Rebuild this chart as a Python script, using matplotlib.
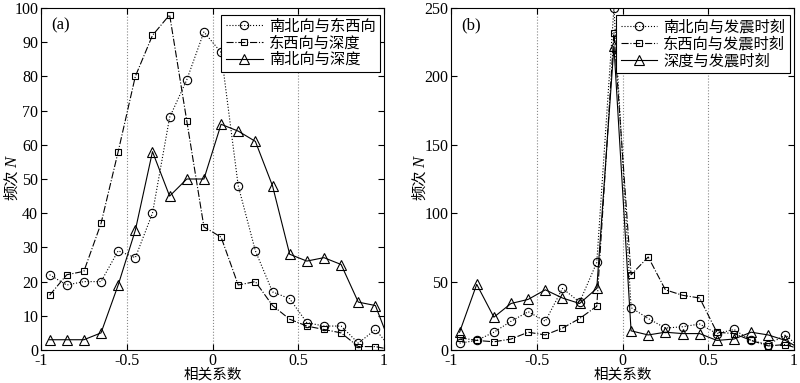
import matplotlib
matplotlib.use("Agg")
import matplotlib.pyplot as plt
import numpy as np

plt.rcParams['font.family'] = ['Liberation Serif', 'Noto Sans CJK SC']

x = [-0.95, -0.85, -0.75, -0.65, -0.55, -0.45, -0.35, -0.25, -0.15, -0.05,
     0.05, 0.15, 0.25, 0.35, 0.45, 0.55, 0.65, 0.75, 0.85, 0.95, 1.05]

# panel (a)
a_ns_ew = [22, 19, 20, 20, 29, 27, 40, 68, 79, 93, 87, 48, 29, 17, 15, 8, 7, 7, 2, 6, 0]
a_ew_depth = [16, 22, 23, 37, 58, 80, 92, 98, 67, 36, 33, 19, 20, 13, 9, 7, 6, 5, 1, 1, 0]
a_ns_depth = [3, 3, 3, 5, 19, 35, 58, 45, 50, 50, 66, 64, 61, 48, 28, 26, 27, 25, 14, 13, 0]
a_labels = ['南北向与东西向', '东西向与深度', '南北向与深度']

# panel (b)
b_ns_time = [5, 7, 13, 21, 28, 21, 45, 35, 64, 250, 31, 23, 16, 17, 19, 12, 15, 7, 4, 11, 0]
b_ew_time = [9, 7, 6, 8, 13, 11, 16, 23, 32, 232, 55, 68, 44, 40, 38, 13, 12, 7, 3, 4, 0]
b_depth_time = [13, 48, 24, 34, 37, 44, 38, 34, 45, 222, 14, 11, 13, 12, 12, 7, 8, 13, 11, 7, 0]
b_labels = ['南北向与发震时刻', '东西向与发震时刻', '深度与发震时刻']

xticks = [-1, -0.5, 0, 0.5, 1]
xticklabels = ['-1', '-0.5', '0', '0.5', '1']

W, H = 800, 383
fig = plt.figure(figsize=(W/100, H/100), dpi=100)
ax1 = fig.add_axes([41/W, 1-350/H, 343/W, 342/H])
ax2 = fig.add_axes([451/W, 1-350/H, 343/W, 342/H])

styles = [
    dict(linestyle=':', marker='o', markersize=6),
    dict(linestyle='-.', marker='s', markersize=4.2),
    dict(linestyle='-', marker='^', markersize=6.5),
]

def draw(ax, series, labels, yticks, ylim, tag, ylab_x):
    for s, lab, st in zip(series, labels, styles):
        ax.plot(x, s, color='black', linewidth=0.8,
                markerfacecolor='none', markeredgecolor='black',
                markeredgewidth=0.8, label=lab, **st)
    ax.set_xlim(-1, 1)
    ax.set_ylim(*ylim)
    ax.set_xticks(xticks)
    ax.set_xticklabels(xticklabels)
    ax.set_yticks(yticks)
    for v in [-0.5, 0, 0.5]:
        ax.axvline(v, color='#888888', linestyle=':', linewidth=0.8, zorder=0)
    ax.tick_params(direction='in', top=True, right=True, labelsize=11.5,
                   length=4, width=0.8)
    ax.tick_params(axis='x', pad=2)
    ax.tick_params(axis='y', pad=2)
    for sp in ax.spines.values():
        sp.set_linewidth(0.8)
    ax.set_xlabel('相关系数', fontsize=10.5)
    ax.xaxis.set_label_coords(0.5, -24.5/342)
    ax.xaxis.label.set_va('center')
    # y label: "频次" + italic N
    fig.text(ylab_x/W, 1-200/H, '频次', rotation=90, fontsize=11,
             family=['Noto Sans CJK SC'], ha='center', va='bottom')
    fig.text((ylab_x+1)/W, 1-168/H, 'N', rotation=90, fontsize=12,
             family=['Liberation Serif'], style='italic', ha='center', va='bottom')
    ax.text(0.03, 0.95, tag, transform=ax.transAxes, fontsize=12,
            va='center', ha='left')
    leg = ax.legend(loc='upper right', bbox_to_anchor=(1 - 4/343, 1 - 7/342),
                    borderaxespad=0, fancybox=False, framealpha=1,
                    edgecolor='black', fontsize=11, handlelength=2.4,
                    handletextpad=0.4, labelspacing=0.15, borderpad=0.3)
    leg.get_frame().set_linewidth(0.8)

draw(ax1, [a_ns_ew, a_ew_depth, a_ns_depth], a_labels,
     list(range(0, 101, 10)), (0, 100), '(a)', 12)
draw(ax2, [b_ns_time, b_ew_time, b_depth_time], b_labels,
     list(range(0, 251, 50)), (0, 250), '(b)', 420)

fig.savefig('out.png', dpi=100)
